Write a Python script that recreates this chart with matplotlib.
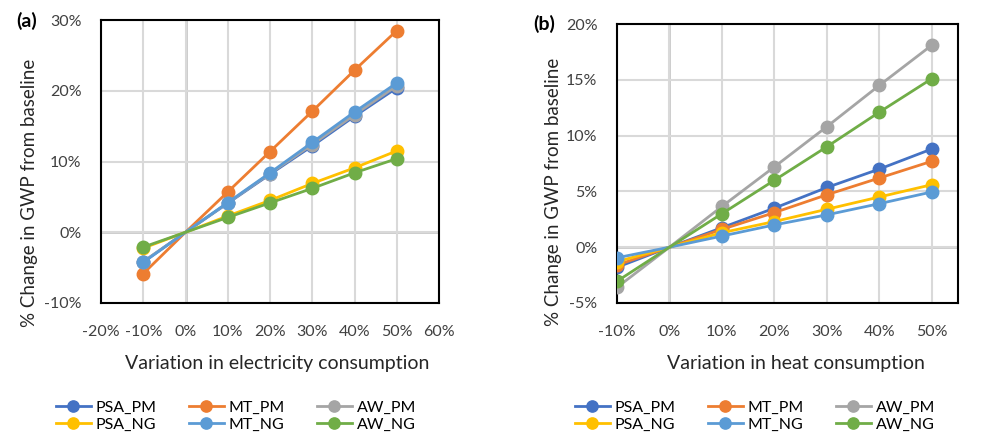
import numpy as np
import matplotlib
matplotlib.use('Agg')
import matplotlib.pyplot as plt
from matplotlib.ticker import PercentFormatter

plt.rcParams['font.family'] = ['Lato', 'DejaVu Sans']
plt.rcParams['axes.unicode_minus'] = False

# data (percent)
x = [-10, 0, 10, 20, 30, 40, 50]
series = ['PSA_PM', 'MT_PM', 'AW_PM', 'PSA_NG', 'MT_NG', 'AW_NG']
colors = ['#4472C4', '#ED7D31', '#A5A5A5', '#FFC000', '#5B9BD5', '#70AD47']

elec_psa_pm = [-4.2, 0, 4.1, 8.2, 12.2, 16.4, 20.4]
elec_mt_pm = [-5.85, 0, 5.7, 11.4, 17.1, 22.9, 28.5]
elec_aw_pm = [-4.15, 0, 4.15, 8.3, 12.4, 16.6, 20.7]
elec_psa_ng = [-2.25, 0, 2.3, 4.5, 6.9, 9.1, 11.5]
elec_mt_ng = [-4.25, 0, 4.2, 8.4, 12.7, 17.0, 21.1]
elec_aw_ng = [-2.1, 0, 2.1, 4.15, 6.2, 8.4, 10.4]

heat_psa_pm = [-1.8, 0, 1.75, 3.5, 5.35, 7.0, 8.8]
heat_mt_pm = [-1.6, 0, 1.6, 3.1, 4.7, 6.2, 7.7]
heat_aw_pm = [-3.6, 0, 3.65, 7.2, 10.8, 14.5, 18.1]
heat_psa_ng = [-1.3, 0, 1.3, 2.3, 3.4, 4.5, 5.6]
heat_mt_ng = [-0.95, 0, 1.0, 2.0, 2.9, 3.9, 4.95]
heat_aw_ng = [-3.05, 0, 3.0, 6.0, 9.0, 12.1, 15.1]

elec = [elec_psa_pm, elec_mt_pm, elec_aw_pm, elec_psa_ng, elec_mt_ng, elec_aw_ng]
heat = [heat_psa_pm, heat_mt_pm, heat_aw_pm, heat_psa_ng, heat_mt_ng, heat_aw_ng]

# baseline point (0, 0) is drawn without a marker
marked = [0, 2, 3, 4, 5, 6]

fig = plt.figure(figsize=(9.97, 4.43), dpi=100)
ax1 = fig.add_axes([101 / 997, 1 - 303 / 443, 338 / 997, 283 / 443])
ax2 = fig.add_axes([617 / 997, 1 - 303 / 443, 341 / 997, 279 / 443])


def draw(ax, data, xlim, xticks, ylim, yticks, xlabel, xlab_x, ylab_xy, tag, tagx, tagy):
    handles = []
    for name, c, y in zip(series, colors, data):
        h, = ax.plot(x, y, color=c, lw=2.0, marker='o', ms=9, markevery=marked,
                     label=name, zorder=3)
        handles.append(h)
    ax.set_xlim(xlim)
    ax.set_ylim(ylim)
    ax.set_xticks(xticks)
    ax.set_yticks(yticks)
    ax.xaxis.set_major_formatter(PercentFormatter(decimals=0))
    ax.yaxis.set_major_formatter(PercentFormatter(decimals=0))
    ax.grid(True, color='#D9D9D9', lw=1.5, zorder=0)
    ax.axhline(0, color='#BFBFBF', lw=1.8, zorder=1)
    ax.axvline(0, color='#BFBFBF', lw=1.8, zorder=1)
    ax.tick_params(length=0, labelsize=11.5, colors='#404040')
    ax.tick_params(axis='x', pad=16)
    ax.tick_params(axis='y', pad=14)
    for s in ax.spines.values():
        s.set_linewidth(1.5)
        s.set_color('black')
    ax.set_xlabel(xlabel, fontsize=14, color='#262626')
    ax.xaxis.set_label_coords(xlab_x, -0.185)
    ax.set_ylabel('% Change in GWP from baseline', fontsize=13.5, color='#262626')
    ax.yaxis.set_label_coords(*ylab_xy)
    fig.text(tagx, tagy, tag, fontsize=14, fontweight='bold', ha='left', va='center')
    return handles


h1 = draw(ax1, elec, (-20, 60), np.arange(-20, 61, 10), (-10, 30), np.arange(-10, 31, 10),
          'Variation in electricity consumption', 0.52, (-0.185, 0.39),
          '(a)', 16 / 997, 1 - 21 / 443)
h2 = draw(ax2, heat, (-10, 55), np.arange(-10, 51, 10), (-5, 20), np.arange(-5, 21, 5),
          'Variation in heat consumption', 0.525, (-0.16, 0.40),
          '(b)', 533 / 997, 1 - 24 / 443)

# legend fills by column, so reorder to read row-wise
order = [0, 3, 1, 4, 2, 5]
for hs, cx in [(h1, 236 / 997), (h2, 755 / 997)]:
    fig.legend([hs[i] for i in order], [series[i] for i in order], ncol=3,
               loc='center', bbox_to_anchor=(cx, 1 - 416 / 443), frameon=False,
               fontsize=11.5, handlelength=2.2, handletextpad=0.3,
               columnspacing=2.0, labelspacing=0.15, markerscale=0.9)

fig.savefig('out.png', dpi=100)
